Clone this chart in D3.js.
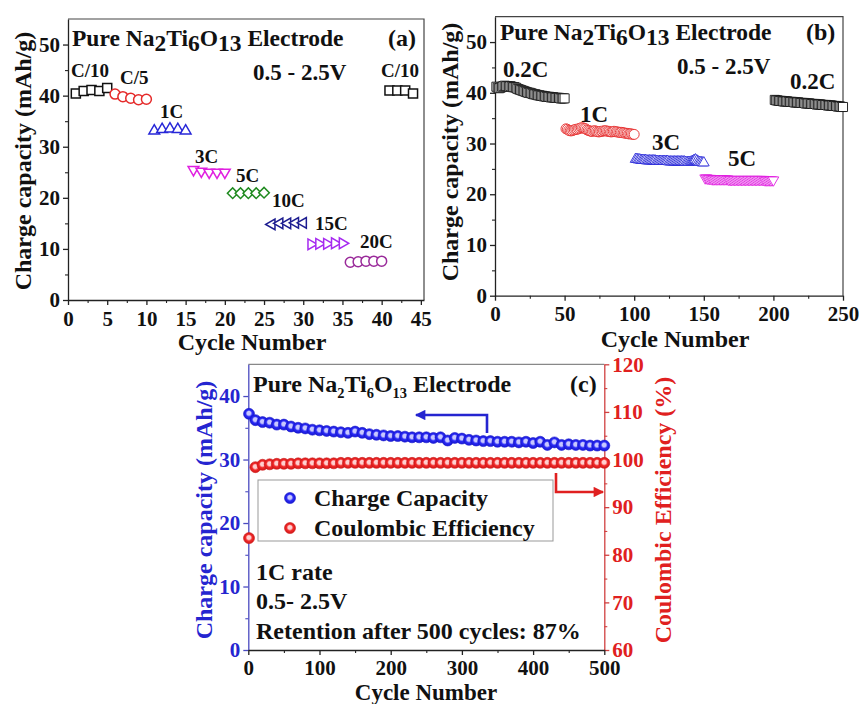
<!DOCTYPE html>
<html>
<head>
<meta charset="utf-8">
<script src="https://cdn.jsdelivr.net/npm/d3@7"></script>
<style>
  body { margin: 0; background: #fff; }
  svg { display: block; }
  text { font-family: "Liberation Serif", "Times New Roman", serif; font-weight: bold; }
</style>
</head>
<body>
<svg id="chart" width="859" height="704"></svg>
<script>
// ---------- Panel (a): rate capability, 5 cycles per rate ----------
const rateLabelsA = ["C/10", "C/5", "1C", "3C", "5C", "10C", "15C", "20C", "C/10"];
const rateStartA  = [1, 6, 11, 16, 21, 26, 31, 36, 41];
const capA_C10a = [40.4, 40.9, 41.1, 40.9, 41.5];
const capA_C5   = [40.3, 39.8, 39.5, 39.2, 39.3];
const capA_1C   = [33.1, 33.4, 33.5, 33.4, 33.1];
const capA_3C   = [25.5, 25.2, 25.0, 25.0, 25.0];
const capA_5C   = [20.9, 20.9, 20.9, 20.9, 21.0];
const capA_10C  = [14.8, 15.0, 15.0, 15.1, 15.1];
const capA_15C  = [10.9, 11.0, 11.0, 11.1, 11.1];
const capA_20C  = [7.4, 7.5, 7.6, 7.6, 7.6];
const capA_C10b = [41.0, 41.0, 41.0, 40.4];
const xTicksA = [0, 5, 10, 15, 20, 25, 30, 35, 40, 45];
const yTicksA = [0, 10, 20, 30, 40, 50];

// ---------- Panel (b): rate capability, 50 cycles per rate ----------
const rateLabelsB = ["0.2C", "1C", "3C", "5C", "0.2C"];
const rateStartB  = [1, 51, 101, 151, 201];
const capB_02a = [41.2, 41.0, 40.9, 41.0, 41.2, 41.3, 41.4, 41.3, 41.3, 41.2,
                  41.3, 41.2, 41.1, 41.1, 41.0, 40.8, 40.7, 40.6, 40.5, 40.4,
                  40.3, 40.2, 40.1, 40.0, 40.0, 39.9, 39.8, 39.7, 39.7, 39.6,
                  39.5, 39.5, 39.4, 39.4, 39.3, 39.3, 39.2, 39.2, 39.2, 39.1,
                  39.1, 39.1, 39.0, 39.0, 39.0, 39.0, 38.9, 38.9, 38.9, 38.9];
const capB_1C  = [32.9, 32.8, 32.6, 32.5, 32.5, 32.6, 32.7, 32.8, 32.8, 32.9,
                  33.0, 33.1, 33.1, 33.0, 32.9, 32.7, 32.6, 32.5, 32.4, 32.4,
                  32.5, 32.5, 32.4, 32.3, 32.3, 32.4, 32.4, 32.5, 32.5, 32.5,
                  32.4, 32.4, 32.3, 32.3, 32.4, 32.4, 32.3, 32.3, 32.2, 32.2,
                  32.2, 32.1, 32.1, 32.0, 32.0, 31.9, 31.9, 31.9, 31.8, 31.8];
const capB_3C  = [26.9, 26.9, 26.8, 26.8, 26.7, 26.7, 26.7, 26.7, 26.6, 26.6,
                  26.6, 26.6, 26.6, 26.6, 26.6, 26.5, 26.5, 26.5, 26.5, 26.5,
                  26.5, 26.5, 26.5, 26.5, 26.4, 26.4, 26.4, 26.4, 26.4, 26.4,
                  26.4, 26.4, 26.4, 26.4, 26.4, 26.4, 26.3, 26.3, 26.3, 26.3,
                  26.4, 26.5, 26.7, 26.8, 26.6, 26.4, 26.3, 26.3, 26.2, 26.2];
const capB_5C  = [23.2, 23.2, 23.1, 23.1, 23.1, 23.0, 23.0, 23.0, 23.0, 23.0,
                  23.0, 23.0, 23.0, 23.0, 23.0, 23.0, 23.0, 22.9, 22.9, 22.9,
                  22.9, 22.9, 22.9, 22.9, 22.9, 22.9, 22.9, 22.9, 22.9, 22.9,
                  22.9, 22.9, 22.9, 22.9, 22.9, 22.9, 22.9, 22.9, 22.9, 22.9,
                  22.9, 22.9, 22.9, 22.8, 22.8, 22.8, 22.8, 22.8, 22.8, 22.8];
const capB_02b = [38.6, 38.5, 38.5, 38.4, 38.4, 38.4, 38.3, 38.3, 38.3, 38.3,
                  38.2, 38.2, 38.2, 38.2, 38.1, 38.1, 38.1, 38.1, 38.0, 38.0,
                  38.0, 38.0, 37.9, 37.9, 37.9, 37.9, 37.8, 37.8, 37.8, 37.8,
                  37.7, 37.7, 37.7, 37.7, 37.6, 37.6, 37.6, 37.6, 37.5, 37.5,
                  37.5, 37.5, 37.4, 37.4, 37.4, 37.3, 37.3, 37.3, 37.2, 37.2];
const xTicksB = [0, 50, 100, 150, 200, 250];
const yTicksB = [0, 10, 20, 30, 40, 50];

// ---------- Panel (c): long cycling at 1C ----------
const cyclesC = [1, 10, 20, 30, 40, 50, 60, 70, 80, 90, 100,
                 110, 120, 130, 140, 150, 160, 170, 180, 190, 200,
                 210, 220, 230, 240, 250, 260, 270, 280, 290, 300,
                 310, 320, 330, 340, 350, 360, 370, 380, 390, 400,
                 410, 420, 430, 440, 450, 460, 470, 480, 490, 500];
const capC = [37.2, 36.2, 35.9, 35.8, 35.5, 35.5, 35.2, 35.0, 34.9, 34.7, 34.6,
              34.5, 34.4, 34.3, 34.2, 34.4, 34.2, 34.0, 33.9, 33.8, 33.7,
              33.7, 33.6, 33.5, 33.5, 33.5, 33.4, 33.5, 33.0, 33.4, 33.3,
              33.1, 33.0, 32.9, 32.9, 32.8, 32.8, 32.8, 32.7, 32.8, 32.6,
              32.8, 32.3, 32.7, 32.3, 32.4, 32.3, 32.3, 32.2, 32.2, 32.2];
const ceC  = [83.5, 98.4, 98.9, 99.0, 99.1, 99.1, 99.1, 99.2, 99.2, 99.2, 99.2,
              99.2, 99.2, 99.3, 99.3, 99.3, 99.3, 99.3, 99.3, 99.3, 99.3,
              99.3, 99.3, 99.3, 99.3, 99.3, 99.3, 99.3, 99.3, 99.3, 99.3,
              99.3, 99.3, 99.3, 99.3, 99.3, 99.3, 99.3, 99.3, 99.3, 99.3,
              99.3, 99.3, 99.3, 99.3, 99.3, 99.3, 99.3, 99.3, 99.3, 99.3];
const xTicksC = [0, 100, 200, 300, 400, 500];
const yTicksC = [0, 10, 20, 30, 40];
const y2TicksC = [60, 70, 80, 90, 100, 110, 120];
const legendC = ["Charge Capacity", "Coulombic Efficiency"];

const svg = d3.select("#chart");
svg.append("rect").attr("width", 859).attr("height", 704).attr("fill", "#fff");

const defs = svg.append("defs");
function sphereGrad(id, light, mid, dark) {
  const g = defs.append("radialGradient").attr("id", id)
    .attr("cx", "50%").attr("cy", "50%").attr("r", "55%")
    .attr("fx", "48%").attr("fy", "42%");
  g.append("stop").attr("offset", "0%").attr("stop-color", light);
  g.append("stop").attr("offset", "30%").attr("stop-color", light);
  g.append("stop").attr("offset", "55%").attr("stop-color", mid);
  g.append("stop").attr("offset", "100%").attr("stop-color", dark);
}
sphereGrad("gBlue", "#c8c8ff", "#2a2af5", "#1414c8");
sphereGrad("gRed", "#ffd0d0", "#f22a2a", "#c81414");

// Axis helper: majors with labels, minors without
function axis(g, scale, orient, majors, minors, opt) {
  const make = { left: d3.axisLeft, right: d3.axisRight, bottom: d3.axisBottom }[orient];
  const color = opt.color || "#222";
  const mj = g.append("g").attr("transform", opt.transform)
    .call(make(scale).tickValues(majors).tickSize(opt.tick || 5).tickPadding(opt.pad || 4).tickSizeOuter(0));
  mj.select(".domain").attr("stroke", color).attr("stroke-width", 1.3);
  mj.selectAll(".tick line").attr("stroke", color).attr("stroke-width", 1.3);
  mj.selectAll(".tick text").attr("fill", opt.textColor || "#111")
    .style("font-size", (opt.fs || 21) + "px");
  const mn = g.append("g").attr("transform", opt.transform)
    .call(make(scale).tickValues(minors).tickSize(3).tickFormat("").tickSizeOuter(0));
  mn.select(".domain").remove();
  mn.selectAll(".tick line").attr("stroke", color).attr("stroke-width", 1.1);
}

function label(g, x, y, txt, fs, color, anchor) {
  return g.append("text").attr("x", x).attr("y", y).text(txt)
    .style("font-size", fs + "px").attr("fill", color || "#111")
    .attr("text-anchor", anchor || "start");
}

// Title with the Na2Ti6O13 formula; digits lowered (a, b) or true subscripts (c)
function formulaTitle(g, x, y, fs, subScale, shift) {
  const t = g.append("text").attr("x", x).attr("y", y).style("font-size", fs + "px").attr("fill", "#111");
  const parts = [["Pure Na", false], ["2", true], ["Ti", false], ["6", true], ["O", false], ["13", true], [" Electrode", false]];
  parts.forEach(([s, sub], i) => {
    const ts = t.append("tspan").text(s);
    if (sub) ts.attr("dy", shift).style("font-size", fs * subScale + "px");
    else ts.attr("dy", i > 0 ? -shift : 0);
  });
  return t;
}

// open marker drawer (white-filled so overlapped markers show only their edges)
function drawOpen(g, pts, x, y, color, sym, scale, sw) {
  const kinds = {
    square: [d3.symbolSquare, 82, 0],
    circle: [d3.symbolCircle, 78, 0],
    up: [d3.symbolTriangle, 50, 0],
    down: [d3.symbolTriangle, 50, 180],
    left: [d3.symbolTriangle, 50, -90],
    right: [d3.symbolTriangle, 50, 90],
    diamond: [d3.symbolSquare, 56, 45]
  };
  const [type, size, rot] = kinds[sym];
  g.append("g").selectAll("path").data(pts).join("path")
    .attr("d", d3.symbol().type(type).size(size * scale)())
    .attr("transform", d => `translate(${x(d[0])},${y(d[1])}) rotate(${rot})`)
    .attr("fill", "#fff").attr("stroke", color).attr("stroke-width", sw);
}

// =================== Panel (a) ===================
(function () {
  const g = svg.append("g");
  const x = d3.scaleLinear().domain([0, 45.4]).range([68, 424]);
  const y = d3.scaleLinear().domain([0, 55]).range([300, 19]);
  g.append("path").attr("d", `M${x(0)},${y(55)}H${x(45.4)}V${y(0)}`).attr("fill", "none")
    .attr("stroke", "#444").attr("stroke-width", 1.2);
  axis(g, y, "left", yTicksA, d3.range(5, 55, 10), { transform: `translate(${x(0)},0)`, pad: 3 });
  axis(g, x, "bottom", xTicksA, d3.range(2.5, 45, 5), { transform: `translate(0,${y(0)})`, pad: 6 });

  const series = [
    { v: capA_C10a, c: "#111111", sym: "square" },
    { v: capA_C5,   c: "#e52a2a", sym: "circle" },
    { v: capA_1C,   c: "#2727d8", sym: "up" },
    { v: capA_3C,   c: "#e020e0", sym: "down" },
    { v: capA_5C,   c: "#1f8a1f", sym: "diamond" },
    { v: capA_10C,  c: "#1c1c90", sym: "left" },
    { v: capA_15C,  c: "#a62af0", sym: "right" },
    { v: capA_20C,  c: "#9a2a9a", sym: "circle" },
    { v: capA_C10b, c: "#111111", sym: "square" }
  ];
  series.forEach((s, k) => drawOpen(g, s.v.map((v, i) => [rateStartA[k] + i, v]), x, y, s.c, s.sym, 1.0, 1.5));

  const lab = [[71, 77], [120, 84], [160, 118], [195, 163], [236, 182], [272, 207], [315, 230], [360, 248], [381, 77]];
  rateLabelsA.forEach((t, i) => label(g, lab[i][0], lab[i][1], t, 19));
  formulaTitle(g, 72, 46, 23.5, 1.0, 5);
  label(g, 388, 46, "(a)", 24);
  label(g, 253, 80, "0.5 - 2.5V", 23);
  label(g, 23, 161, "Charge capacity (mAh/g)", 24, "#111", "middle")
    .attr("transform", "rotate(-90,23,161)").attr("dy", "0.35em");
  label(g, 252, 350, "Cycle Number", 24, "#111", "middle");
})();

// =================== Panel (b) ===================
(function () {
  const g = svg.append("g");
  const x = d3.scaleLinear().domain([0, 250]).range([495, 843]);
  const y = d3.scaleLinear().domain([0, 55]).range([295.7, 16.7]);
  g.append("path").attr("d", `M${x(0)},${y(55)}H${x(250)}V${y(0)}`).attr("fill", "none")
    .attr("stroke", "#444").attr("stroke-width", 1.2);
  axis(g, y, "left", yTicksB, d3.range(5, 55, 10), { transform: `translate(${x(0)},0)`, pad: 3 });
  axis(g, x, "bottom", xTicksB, d3.range(25, 250, 50), { transform: `translate(0,${y(0)})`, pad: 5 });

  const series = [
    { v: capB_02a, c: "#111111", sym: "square" },
    { v: capB_1C,  c: "#e52a2a", sym: "circle" },
    { v: capB_3C,  c: "#2727d8", sym: "up" },
    { v: capB_5C,  c: "#e020e0", sym: "down" },
    { v: capB_02b, c: "#111111", sym: "square" }
  ];
  series.forEach((s, k) => drawOpen(g, s.v.map((v, i) => [rateStartB[k] + i, v]), x, y, s.c, s.sym, 1.0, 0.9));

  const lab = [[503, 77], [580, 122], [652, 150], [728, 166], [790, 89]];
  rateLabelsB.forEach((t, i) => label(g, lab[i][0], lab[i][1], t, 23));
  formulaTitle(g, 500, 40, 23.5, 1.0, 5);
  label(g, 806, 40, "(b)", 24);
  label(g, 677, 74, "0.5 - 2.5V", 23);
  label(g, 450, 152, "Charge capacity (mAh/g)", 24, "#111", "middle")
    .attr("transform", "rotate(-90,450,152)").attr("dy", "0.35em");
  label(g, 675, 347, "Cycle Number", 24, "#111", "middle");
})();

// =================== Panel (c) ===================
(function () {
  const g = svg.append("g");
  const blue = "#2525d0", red = "#e02020";
  const x = d3.scaleLinear().domain([0, 500]).range([248.3, 604.3]);
  const y = d3.scaleLinear().domain([0, 45]).range([650, 364.3]);
  const y2 = d3.scaleLinear().domain([60, 120]).range([650, 364.3]);

  g.append("line").attr("x1", x(0)).attr("x2", x(500)).attr("y1", y(45)).attr("y2", y(45))
    .attr("stroke", "#888").attr("stroke-width", 1.2);
  axis(g, y, "left", yTicksC, d3.range(5, 45, 10), { transform: `translate(${x(0)},0)`, pad: 3, color: "#4a4ac0", textColor: blue });
  axis(g, y2, "right", y2TicksC, d3.range(65, 120, 10), { transform: `translate(${x(500)},0)`, pad: 3, color: "#d04040", textColor: red });
  axis(g, x, "bottom", xTicksC, d3.range(50, 500, 100), { transform: `translate(0,${y(0)})`, pad: 5 });

  g.append("g").selectAll("circle").data(cyclesC.map((c, i) => [c, ceC[i]])).join("circle")
    .attr("cx", d => x(d[0])).attr("cy", d => y2(d[1])).attr("r", 5.5)
    .attr("fill", "url(#gRed)").attr("stroke", "#d01818").attr("stroke-width", 0.6);
  g.append("g").selectAll("circle").data(cyclesC.map((c, i) => [c, capC[i]])).join("circle")
    .attr("cx", d => x(d[0])).attr("cy", d => y(d[1])).attr("r", 5.5)
    .attr("fill", "url(#gBlue)").attr("stroke", "#1818d0").attr("stroke-width", 0.6);

  // pointer arrows to the matching axes
  defs.append("marker").attr("id", "headB").attr("viewBox", "0 0 10 10").attr("refX", 9).attr("refY", 5)
    .attr("markerWidth", 4.5).attr("markerHeight", 4).attr("orient", "auto")
    .append("path").attr("d", "M0,0L10,5L0,10z").attr("fill", blue);
  defs.append("marker").attr("id", "headR").attr("viewBox", "0 0 10 10").attr("refX", 9).attr("refY", 5)
    .attr("markerWidth", 4.5).attr("markerHeight", 4).attr("orient", "auto")
    .append("path").attr("d", "M0,0L10,5L0,10z").attr("fill", red);
  g.append("path").attr("d", "M487,433V415H416").attr("fill", "none").attr("stroke", blue)
    .attr("stroke-width", 2.6).attr("marker-end", "url(#headB)");
  g.append("path").attr("d", "M556,473V492H603").attr("fill", "none").attr("stroke", red)
    .attr("stroke-width", 2.6).attr("marker-end", "url(#headR)");

  // legend
  g.append("rect").attr("x", 258).attr("y", 480).attr("width", 295).attr("height", 61)
    .attr("fill", "#fff").attr("stroke", "#999").attr("stroke-width", 1);
  legendC.forEach((t, i) => {
    g.append("circle").attr("cx", 290).attr("cy", 498 + i * 30).attr("r", 5.5)
      .attr("fill", i === 0 ? "url(#gBlue)" : "url(#gRed)")
      .attr("stroke", i === 0 ? "#1818d0" : "#d01818").attr("stroke-width", 0.6);
    label(g, 314, 506 + i * 30, t, 24);
  });

  formulaTitle(g, 253, 392, 24, 0.6, 6);
  label(g, 570, 392, "(c)", 24);
  label(g, 256, 580, "1C rate", 24);
  label(g, 256, 609, "0.5- 2.5V", 24);
  label(g, 256, 639, "Retention after 500 cycles: 87%", 24);
  label(g, 204, 510, "Charge capacity (mAh/g)", 24, blue, "middle")
    .attr("transform", "rotate(-90,204,510)").attr("dy", "0.35em");
  label(g, 663, 510, "Coulombic Efficiency (%)", 24, red, "middle")
    .attr("transform", "rotate(-90,663,510)").attr("dy", "0.35em");
  label(g, 426, 700, "Cycle Number", 23, "#111", "middle");
})();
</script>
</body>
</html>
